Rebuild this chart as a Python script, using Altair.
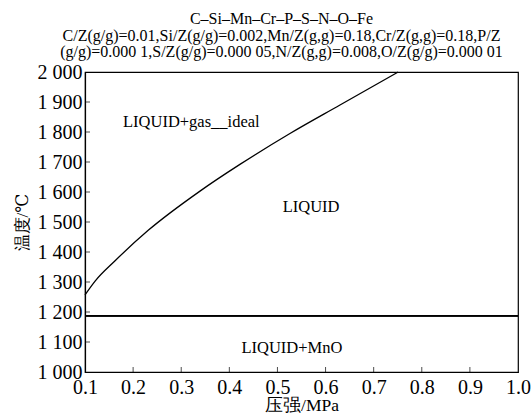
import altair as alt
import pandas as pd

# Boundary curve LIQUID / LIQUID+gas_ideal
pressure = [0.1, 0.121, 0.162, 0.232, 0.339, 0.422, 0.526, 0.630, 0.751]
temperature = [1257, 1303, 1370, 1473, 1603, 1692, 1795, 1890, 2000]

# MnO boundary (horizontal)
mno_temp = 1188

# Region labels
label_text = ["LIQUID+gas__ideal", "LIQUID", "LIQUID+MnO"]
label_p = [0.321, 0.570, 0.530]
label_t = [1834, 1551, 1079]

x_ticks = [0.1, 0.2, 0.3, 0.4, 0.5, 0.6, 0.7, 0.8, 0.9, 1.0]
y_ticks = [1000, 1100, 1200, 1300, 1400, 1500, 1600, 1700, 1800, 1900, 2000]

title_lines = [
    "C–Si–Mn–Cr–P–S–N–O–Fe",
    "C/Z(g/g)=0.01,Si/Z(g/g)=0.002,Mn/Z(g,g)=0.18,Cr/Z(g,g)=0.18,P/Z",
    "(g/g)=0.000 1,S/Z(g/g)=0.000 05,N/Z(g,g)=0.008,O/Z(g/g)=0.000 01",
]

FONT = "Liberation Serif, DejaVu Serif, serif"

curve_df = pd.DataFrame({"p": pressure, "t": temperature})
labels_df = pd.DataFrame({"text": label_text, "p": label_p, "t": label_t})
xt_df = pd.DataFrame({"p": x_ticks[1:-1]})
yt_df = pd.DataFrame({"t": y_ticks[1:-1]})

xscale = alt.Scale(domain=[0.1, 1.0], nice=False, zero=False)
yscale = alt.Scale(domain=[1000, 2000], nice=False, zero=False)

x_axis = alt.Axis(
    title="压强/MPa", values=x_ticks, format=".1f", labelFlush=False,
    labelOverlap=False, tickSize=0, labelPadding=5, grid=False,
    domainColor="black", domainWidth=1.2,
    labelFont=FONT, labelFontSize=20, labelColor="black",
    titleFont=FONT, titleFontSize=17.5, titleFontWeight="normal", titleColor="black",
    titleBaseline="middle", titleY=33,
)
y_axis = alt.Axis(
    title="温度/℃", values=y_ticks, labelFlush=False, labelOverlap=False,
    labelExpr="replace(format(datum.value, ','), ',', ' ')",
    tickSize=0, labelPadding=3, grid=False,
    domainColor="black", domainWidth=1.2,
    labelFont=FONT, labelFontSize=20, labelColor="black",
    titleFont=FONT, titleFontSize=17, titleFontWeight="normal", titleColor="black",
    titleBaseline="middle", titleX=-63,
)

curve = alt.Chart(curve_df).mark_line(
    color="black", strokeWidth=1.3, interpolate="monotone"
).encode(
    x=alt.X("p:Q", scale=xscale, axis=x_axis),
    y=alt.Y("t:Q", scale=yscale, axis=y_axis),
)

mno = alt.Chart(curve_df).mark_rule(color="black", strokeWidth=1.2).encode(
    y=alt.datum(mno_temp, type="quantitative", scale=yscale, axis=y_axis)
)

texts = alt.Chart(labels_df).mark_text(
    font=FONT, fontSize=16.5, color="black"
).encode(
    x=alt.X("p:Q", scale=xscale, axis=x_axis),
    y=alt.Y("t:Q", scale=yscale, axis=y_axis),
    text="text:N",
)

xticks_m = alt.Chart(xt_df).mark_tick(
    orient="vertical", size=5, thickness=1, color="black", yOffset=-2.5
).encode(
    x=alt.X("p:Q", scale=xscale, axis=x_axis),
    y=alt.datum(1000, type="quantitative", scale=yscale, axis=y_axis),
)

yticks_m = alt.Chart(yt_df).mark_tick(
    orient="horizontal", size=5, thickness=1, color="black", xOffset=2.5
).encode(
    y=alt.Y("t:Q", scale=yscale, axis=y_axis),
    x=alt.datum(0.1, type="quantitative", scale=xscale, axis=x_axis),
)

chart = alt.layer(curve, mno, texts, xticks_m, yticks_m).properties(
    width=433,
    height=300,
    background="white",
    title=alt.TitleParams(
        text=title_lines, font=FONT, fontSize=16, fontWeight="normal",
        color="black", anchor="middle", dx=-20, offset=2, lineHeight=16.5,
    ),
    autosize=alt.AutoSizeParams(type="none"),
    padding={"left": 85, "top": 72, "right": 14, "bottom": 41},
).configure_view(stroke="black", strokeWidth=1.2)

chart.save("out.html", embed_options={"renderer": "svg", "actions": False})
